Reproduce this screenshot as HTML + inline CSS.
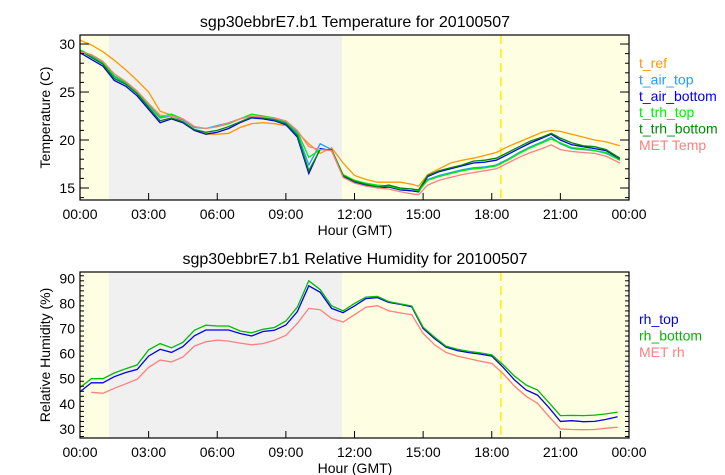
<!DOCTYPE html>
<html><head><meta charset="utf-8"><style>
body{margin:0;background:#fff;}
svg{display:block;font-family:"Liberation Sans","DejaVu Sans",sans-serif;}
</style></head><body>
<svg id="chart" width="725" height="475" viewBox="0 0 725 475" xmlns="http://www.w3.org/2000/svg"></svg>
<script>
const hoursT=[0,0.5,1,1.5,2,2.5,3,3.5,4,4.5,5,5.5,6,6.5,7,7.5,8,8.5,9,9.5,10,10.5,11,11.5,12,12.5,13,13.5,14,14.5,14.8,15.2,15.7,16.2,16.7,17.2,17.7,18.2,18.7,19.2,19.7,20.2,20.6,21,21.5,22,22.5,23,23.6];
const tRef=[30.4,29.9,29.2,28.3,27.3,26.2,25.0,23.0,22.6,21.9,21.0,20.6,20.6,20.7,21.3,21.7,21.8,21.7,21.5,20.8,19.6,18.6,19.2,17.6,16.3,15.9,15.6,15.6,15.6,15.4,15.2,16.4,17.0,17.6,17.9,18.1,18.4,18.7,19.3,19.8,20.3,20.8,21.0,20.9,20.6,20.3,20.0,19.8,19.4];
const tAirTop=[29.3,28.7,28.0,26.6,25.9,24.9,23.6,22.3,22.5,22.1,21.3,21.2,21.5,21.8,22.2,22.5,22.4,22.2,21.8,20.7,17.4,19.6,19.0,16.3,15.7,15.4,15.2,15.2,14.8,14.7,14.6,15.9,16.3,16.6,16.9,17.1,17.2,17.4,18.0,18.7,19.3,19.8,20.3,19.6,19.1,19.0,18.9,18.6,17.9];
const tAirBottom=[29.1,28.4,27.7,26.2,25.6,24.6,23.2,21.8,22.2,21.8,21.0,20.6,20.8,21.2,21.8,22.3,22.2,22.0,21.6,20.3,16.5,19.1,18.9,16.2,15.6,15.3,15.0,15.1,14.8,14.7,14.6,16.2,16.7,17.0,17.3,17.6,17.7,17.9,18.5,19.1,19.7,20.2,20.6,20.0,19.5,19.3,19.1,18.9,18.0];
const tTrhTop=[29.4,28.8,28.1,26.7,26.0,25.0,23.7,22.4,22.7,22.2,21.4,21.2,21.4,21.7,22.2,22.7,22.5,22.3,21.9,20.9,18.2,19.0,19.0,16.4,15.8,15.5,15.3,15.2,14.9,14.9,14.7,15.8,16.2,16.5,16.8,17.0,17.1,17.3,17.9,18.6,19.2,19.7,20.1,19.7,19.2,19.1,18.9,18.7,17.9];
const tTrhBottom=[29.3,28.6,27.9,26.4,25.8,24.8,23.4,22.0,22.3,21.9,21.1,20.8,21.0,21.4,21.9,22.4,22.3,22.1,21.7,20.5,16.8,19.0,19.0,16.3,15.7,15.4,15.1,15.3,15.0,14.9,14.8,16.3,16.8,17.1,17.4,17.8,17.9,18.1,18.7,19.3,19.9,20.3,20.7,20.2,19.7,19.4,19.3,19.0,18.1];
const tMet=[29.2,28.9,28.2,26.9,26.1,25.1,23.8,22.6,22.5,22.2,21.4,21.2,21.4,21.8,22.2,22.5,22.4,22.3,22.0,21.0,19.3,19.0,18.9,16.1,15.5,15.2,15.0,14.9,14.6,14.4,14.3,15.3,15.8,16.1,16.4,16.6,16.8,17.0,17.6,18.2,18.7,19.1,19.5,19.0,18.8,18.7,18.6,18.3,17.6];
const hoursRH=[0,0.5,1,1.5,2,2.5,3,3.5,4,4.5,5,5.5,6,6.5,7,7.5,8,8.5,9,9.5,10,10.5,11,11.5,12,12.5,13,13.5,14,14.5,15,15.5,16,16.5,17,17.5,18,18.5,19,19.5,20,20.5,21,21.5,22,22.5,23,23.5];
const rhTop=[44.8,48.4,48.4,50.8,52.5,53.7,59.0,61.7,60.5,62.8,67.1,69.4,69.4,69.4,68.0,67.0,68.8,69.3,71.4,76.7,87.0,84.4,78.0,76.3,79.0,81.9,82.3,80.4,79.6,78.7,70.0,66.0,62.6,61.2,60.4,59.8,59.0,54.5,49.5,45.5,43.5,38.5,33.0,33.3,32.9,33.0,33.8,34.9];
const rhBottom=[46.5,50.0,50.0,52.3,54.0,55.5,61.5,64.0,62.3,64.5,69.3,71.3,71.0,71.0,69.0,68.3,69.7,70.4,73.0,78.5,89.0,85.5,79.0,77.0,80.0,82.5,82.8,80.7,79.8,79.0,70.5,66.5,63.0,61.7,60.9,60.3,59.5,55.5,51.0,47.5,45.5,40.5,35.3,35.4,35.3,35.5,36.0,36.7];
const rhMet=[null,44.6,44.2,46.2,48.0,49.8,54.5,57.4,56.7,58.6,63.0,64.7,65.4,65.0,64.2,63.5,64.0,65.3,67.3,72.0,78.0,77.5,74.0,72.6,75.5,78.5,79.1,77.0,76.2,75.5,68.0,63.5,60.5,59.0,58.0,57.0,56.1,52.0,47.0,43.0,40.2,35.0,30.0,29.8,29.7,29.8,30.3,30.7];
const xTickLabels=["00:00","03:00","06:00","09:00","12:00","15:00","18:00","21:00","00:00"];
const tTicks=[15,20,25,30];
const rhTicks=[30,40,50,60,70,80,90];
const grayStart=1.27, grayEnd=11.45, dashHour=18.4;

const NS="http://www.w3.org/2000/svg";
const svg=document.getElementById('chart');
function mk(tag,attrs,parent,text){const e=document.createElementNS(NS,tag);for(const k in attrs)e.setAttribute(k,attrs[k]);if(text!==undefined)e.textContent=text;(parent||svg).appendChild(e);return e;}
const X0=80,X1=629;
const xs=h=>X0+(X1-X0)*h/24;

function panel(cfg){
  const g=mk('g',{});
  
  
  const ys=v=>cfg.b-(v-cfg.min)/(cfg.max-cfg.min)*(cfg.b-cfg.t);
  let r=mk('rect',{x:X0,y:cfg.t,width:X1-X0,height:cfg.b-cfg.t,fill:'#fefee2'},g);
  
  r=mk('rect',{x:xs(grayStart),y:cfg.t,width:xs(grayEnd)-xs(grayStart),height:cfg.b-cfg.t,fill:'#f0f0f0'},g);
  
  let d=mk('line',{x1:xs(dashHour),x2:xs(dashHour),y1:cfg.t,y2:cfg.b,stroke:'#ffee00','stroke-width':1.5,'stroke-dasharray':'9,5'},g);
  
  cfg.series.forEach(s=>{
    let pts=[];
    s.vals.forEach((v,i)=>{if(v!==null)pts.push(xs(cfg.hours[i]).toFixed(1)+','+ys(v).toFixed(1));});
    const p=mk('polyline',{points:pts.join(' '),fill:'none',stroke:s.color,'stroke-width':1.3},g);
    
    
  });
  let f=mk('rect',{x:X0,y:cfg.t,width:X1-X0,height:cfg.b-cfg.t,fill:'none',stroke:'#000','stroke-width':1.2},g);
  
  for(let v=Math.ceil(cfg.min);v<=cfg.max;v+=cfg.minor){
    const major=cfg.ticks.includes(v);const L=major?9:4;const y=ys(v);
    mk('line',{x1:X0,x2:X0+L,y1:y,y2:y,stroke:'#000'},g);
    mk('line',{x1:X1,x2:X1-L,y1:y,y2:y,stroke:'#000'},g);
  }
  cfg.ticks.forEach(v=>{
    const t=mk('text',{x:X0-5,y:ys(v)+5,'text-anchor':'end','font-size':14},g,String(v));
    
  });
  xTickLabels.forEach((lab,i)=>{
    const x=xs(i*3);
    mk('line',{x1:x,x2:x,y1:cfg.b,y2:cfg.b-7,stroke:'#000'},g);
    const t=mk('text',{x:x,y:cfg.b+19,'text-anchor':'middle','font-size':14},g,lab);
    
  });
  let t=mk('text',{x:355,y:cfg.t-8,'text-anchor':'middle','font-size':16},g,cfg.title);
  
  t=mk('text',{x:355,y:cfg.b+35,'text-anchor':'middle','font-size':14},g,'Hour (GMT)');
  
  const cy=(cfg.t+cfg.b)/2;
  t=mk('text',{x:50,y:cy,'text-anchor':'middle','font-size':14,transform:`rotate(-90 50 ${cy})`},g,cfg.ylabel);
  
  cfg.series.forEach((s,i)=>{
    const e=mk('text',{x:639,y:cfg.legY+i*16.4,'font-size':14,fill:s.color},g,s.label);
    
  });
}
panel({name:'temperature-chart',t:35,b:200,min:13.75,max:30.94,minor:1,ticks:tTicks,hours:hoursT,
 title:'sgp30ebbrE7.b1 Temperature for 20100507',ylabel:'Temperature (C)',legY:68,
 series:[{label:'t_ref',color:'#ff9900',vals:tRef},{label:'t_air_top',color:'#1e9fff',vals:tAirTop},
 {label:'t_air_bottom',color:'#0000ee',vals:tAirBottom},{label:'t_trh_top',color:'#00ee00',vals:tTrhTop},
 {label:'t_trh_bottom',color:'#008800',vals:tTrhBottom},{label:'MET Temp',color:'#ff7f7f',vals:tMet}]});
panel({name:'humidity-chart',t:272,b:438,min:26.4,max:92.5,minor:2,ticks:rhTicks,hours:hoursRH,
 title:'sgp30ebbrE7.b1 Relative Humidity for 20100507',ylabel:'Relative Humidity (%)',legY:324,
 series:[{label:'rh_top',color:'#0000ee',vals:rhTop},{label:'rh_bottom',color:'#00bb00',vals:rhBottom},
 {label:'MET rh',color:'#ff7f7f',vals:rhMet}]});
</script>
</body></html>
